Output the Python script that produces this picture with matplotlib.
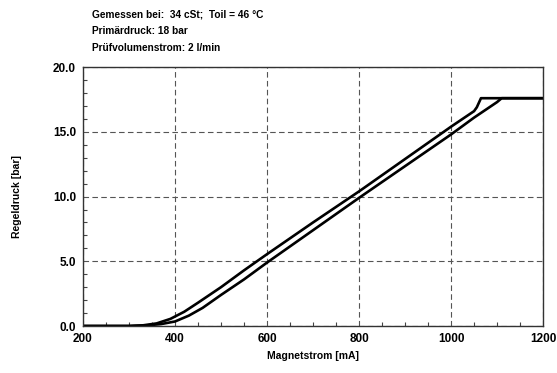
import matplotlib
matplotlib.use("Agg")
import matplotlib.pyplot as plt
from matplotlib.ticker import MultipleLocator, FormatStrFormatter

plt.rcParams['font.family'] = ['Liberation Sans', 'DejaVu Sans']

# Magnet current [mA] and control pressure [bar], rising and falling branch
current_up = [200, 300, 340, 370, 400, 430, 460, 500, 550, 600, 700, 800, 900, 1000, 1050, 1100, 1110, 1200]
pressure_up = [0.0, 0.0, 0.05, 0.15, 0.35, 0.8, 1.4, 2.4, 3.6, 4.9, 7.4, 9.9, 12.35, 14.8, 16.1, 17.3, 17.6, 17.6]

current_down = [200, 300, 330, 360, 390, 420, 450, 500, 550, 600, 700, 800, 900, 1000, 1050, 1056, 1065, 1200]
pressure_down = [0.0, 0.0, 0.05, 0.2, 0.55, 1.1, 1.8, 3.0, 4.3, 5.55, 8.0, 10.4, 12.9, 15.4, 16.6, 16.9, 17.6, 17.6]

header = [
    "Gemessen bei:  34 cSt;  Toil = 46 °C",
    "Primärdruck: 18 bar",
    "Prüfvolumenstrom: 2 l/min",
]

fig = plt.figure(figsize=(5.57, 3.73), dpi=100)
ax = fig.add_axes([0.149, 0.126, 0.826, 0.694])

ax.plot(current_up, pressure_up, color="black", lw=1.9, solid_joinstyle="round")
ax.plot(current_down, pressure_down, color="black", lw=1.9, solid_joinstyle="round")

ax.set_xlim(200, 1200)
ax.set_ylim(0, 20)
ax.xaxis.set_major_locator(MultipleLocator(200))
ax.xaxis.set_minor_locator(MultipleLocator(50))
ax.yaxis.set_major_locator(MultipleLocator(5))
ax.yaxis.set_minor_locator(MultipleLocator(1))
ax.yaxis.set_major_formatter(FormatStrFormatter("%.1f"))

ax.tick_params(which="both", direction="in", top=False, right=False,
               labelsize=8.5, pad=5)
ax.tick_params(which="major", length=0)
ax.tick_params(which="minor", length=3, width=0.8, color="#444444")
for lbl in ax.get_xticklabels() + ax.get_yticklabels():
    lbl.set_fontweight("bold")

ax.grid(True, which="major", linestyle=(0, (5, 3)), color="#555555", lw=0.8)
for s in ax.spines.values():
    s.set_linewidth(1.0)
    s.set_color("#333333")

ax.set_xlabel("Magnetstrom [mA]", fontsize=7.5, fontweight="bold", labelpad=4)
ax.set_ylabel("Regeldruck [bar]", fontsize=7.5, fontweight="bold", labelpad=22)

for i, line in enumerate(header):
    fig.text(0.165, 0.962 - i * 0.045, line, fontsize=7.3, fontweight="bold",
             va="center", ha="left")

fig.savefig("out.png", dpi=100)
